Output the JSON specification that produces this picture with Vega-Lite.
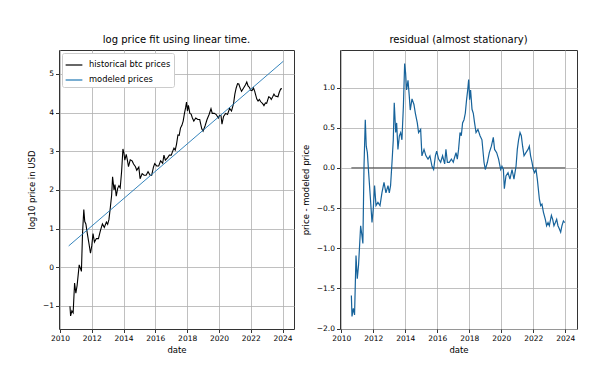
{
  "$schema": "https://vega.github.io/schema/vega-lite/v6.json",
  "autosize": "pad",
  "padding": {"left": 26, "top": 34, "right": 5, "bottom": 5},
  "background": "white",
  "config": {
    "font": "DejaVu Sans",
    "view": {"stroke": "#333333", "strokeWidth": 1},
    "axis": {
      "domain": false, "labelFontSize": 7.5, "titleFontSize": 8.5, "titleFontWeight": "normal",
      "labelColor": "black", "titleColor": "black", "tickColor": "black", "tickSize": 3.5, "tickWidth": 0.8,
      "gridColor": "#b0b0b0", "gridWidth": 0.8, "labelPadding": 2, "labelOverlap": false
    },
    "title": {"fontSize": 10, "fontWeight": "normal", "color": "black", "offset": 5},
    "concat": {"spacing": 46}
  },
  "bounds": "flush",
  "datasets": {
    "btc": [
      {"t":2010.63,"p":-1.01},{"t":2010.67,"p":-1.26},{"t":2010.75,"p":-1.13},{"t":2010.83,"p":-1.18},{"t":2010.92,"p":-0.41},
      {"t":2011.0,"p":-0.67},{"t":2011.08,"p":-0.47},{"t":2011.21,"p":0.06},{"t":2011.29,"p":-0.03},{"t":2011.35,"p":-0.11},
      {"t":2011.42,"p":0.88},{"t":2011.5,"p":1.49},{"t":2011.56,"p":1.18},{"t":2011.63,"p":1.12},{"t":2011.71,"p":0.9},
      {"t":2011.81,"p":0.65},{"t":2011.92,"p":0.36},{"t":2012.0,"p":0.55},{"t":2012.08,"p":0.87},{"t":2012.17,"p":0.65},
      {"t":2012.29,"p":0.74},{"t":2012.42,"p":0.74},{"t":2012.54,"p":0.94},{"t":2012.67,"p":1.12},{"t":2012.79,"p":1.03},
      {"t":2012.92,"p":1.17},{"t":2013.0,"p":1.11},{"t":2013.08,"p":1.23},{"t":2013.17,"p":1.55},{"t":2013.25,"p":1.86},
      {"t":2013.31,"p":2.34},{"t":2013.4,"p":2.0},{"t":2013.46,"p":2.14},{"t":2013.54,"p":1.84},{"t":2013.63,"p":2.04},
      {"t":2013.71,"p":2.11},{"t":2013.79,"p":2.05},{"t":2013.88,"p":2.49},{"t":2013.96,"p":3.06},{"t":2014.02,"p":2.96},
      {"t":2014.08,"p":2.77},{"t":2014.17,"p":2.92},{"t":2014.25,"p":2.75},{"t":2014.31,"p":2.6},{"t":2014.42,"p":2.78},
      {"t":2014.54,"p":2.75},{"t":2014.63,"p":2.67},{"t":2014.75,"p":2.6},{"t":2014.83,"p":2.51},{"t":2014.96,"p":2.59},
      {"t":2015.04,"p":2.29},{"t":2015.17,"p":2.42},{"t":2015.29,"p":2.38},{"t":2015.42,"p":2.38},{"t":2015.54,"p":2.47},
      {"t":2015.67,"p":2.38},{"t":2015.77,"p":2.38},{"t":2015.88,"p":2.59},{"t":2015.96,"p":2.68},{"t":2016.08,"p":2.62},
      {"t":2016.21,"p":2.62},{"t":2016.33,"p":2.75},{"t":2016.46,"p":2.69},{"t":2016.54,"p":2.9},{"t":2016.63,"p":2.77},
      {"t":2016.75,"p":2.82},{"t":2016.88,"p":2.9},{"t":2017.0,"p":2.9},{"t":2017.08,"p":2.99},{"t":2017.17,"p":3.08},
      {"t":2017.25,"p":3.03},{"t":2017.33,"p":3.18},{"t":2017.42,"p":3.42},{"t":2017.5,"p":3.41},{"t":2017.58,"p":3.6},
      {"t":2017.67,"p":3.67},{"t":2017.75,"p":3.78},{"t":2017.83,"p":3.98},{"t":2017.9,"p":4.12},{"t":2017.96,"p":4.27},
      {"t":2018.02,"p":4.04},{"t":2018.08,"p":4.19},{"t":2018.17,"p":3.98},{"t":2018.25,"p":3.96},{"t":2018.33,"p":3.86},
      {"t":2018.42,"p":3.78},{"t":2018.54,"p":3.86},{"t":2018.67,"p":3.82},{"t":2018.79,"p":3.82},{"t":2018.92,"p":3.58},
      {"t":2019.0,"p":3.52},{"t":2019.13,"p":3.66},{"t":2019.25,"p":3.82},{"t":2019.38,"p":3.95},{"t":2019.5,"p":4.1},
      {"t":2019.58,"p":3.98},{"t":2019.71,"p":3.98},{"t":2019.83,"p":3.95},{"t":2019.96,"p":3.86},{"t":2020.04,"p":3.93},
      {"t":2020.13,"p":3.92},{"t":2020.19,"p":3.7},{"t":2020.29,"p":3.9},{"t":2020.42,"p":3.98},{"t":2020.54,"p":3.95},
      {"t":2020.67,"p":4.11},{"t":2020.79,"p":4.04},{"t":2020.92,"p":4.24},{"t":2021.0,"p":4.48},{"t":2021.08,"p":4.63},
      {"t":2021.17,"p":4.75},{"t":2021.25,"p":4.74},{"t":2021.33,"p":4.64},{"t":2021.42,"p":4.55},{"t":2021.54,"p":4.63},
      {"t":2021.67,"p":4.72},{"t":2021.75,"p":4.79},{"t":2021.83,"p":4.69},{"t":2021.92,"p":4.65},{"t":2022.0,"p":4.58},
      {"t":2022.08,"p":4.57},{"t":2022.17,"p":4.64},{"t":2022.25,"p":4.55},{"t":2022.38,"p":4.35},{"t":2022.46,"p":4.3},
      {"t":2022.54,"p":4.34},{"t":2022.63,"p":4.28},{"t":2022.75,"p":4.23},{"t":2022.83,"p":4.18},{"t":2022.92,"p":4.25},
      {"t":2023.0,"p":4.24},{"t":2023.13,"p":4.41},{"t":2023.21,"p":4.39},{"t":2023.29,"p":4.34},{"t":2023.38,"p":4.41},
      {"t":2023.46,"p":4.48},{"t":2023.54,"p":4.43},{"t":2023.63,"p":4.42},{"t":2023.71,"p":4.41},{"t":2023.79,"p":4.52},
      {"t":2023.88,"p":4.61},{"t":2023.96,"p":4.62}
    ],
    "model": [{"t":2010.55,"p":0.55},{"t":2024.05,"p":5.33}],
    "resid": [
      {"t":2010.63,"r":-1.59},{"t":2010.67,"r":-1.85},{"t":2010.75,"r":-1.75},{"t":2010.83,"r":-1.83},{"t":2010.92,"r":-1.09},
      {"t":2011.0,"r":-1.38},{"t":2011.08,"r":-1.21},{"t":2011.21,"r":-0.72},{"t":2011.29,"r":-0.84},{"t":2011.35,"r":-0.94},
      {"t":2011.42,"r":0.02},{"t":2011.5,"r":0.6},{"t":2011.56,"r":0.27},{"t":2011.63,"r":0.19},{"t":2011.71,"r":-0.06},
      {"t":2011.81,"r":-0.35},{"t":2011.92,"r":-0.68},{"t":2012.0,"r":-0.51},{"t":2012.08,"r":-0.22},{"t":2012.17,"r":-0.47},
      {"t":2012.29,"r":-0.43},{"t":2012.42,"r":-0.47},{"t":2012.54,"r":-0.31},{"t":2012.67,"r":-0.18},{"t":2012.79,"r":-0.31},
      {"t":2012.92,"r":-0.22},{"t":2013.0,"r":-0.31},{"t":2013.08,"r":-0.22},{"t":2013.17,"r":0.07},{"t":2013.25,"r":0.35},
      {"t":2013.31,"r":0.81},{"t":2013.4,"r":0.44},{"t":2013.46,"r":0.56},{"t":2013.54,"r":0.23},{"t":2013.63,"r":0.4},
      {"t":2013.71,"r":0.44},{"t":2013.79,"r":0.35},{"t":2013.88,"r":0.76},{"t":2013.96,"r":1.3},{"t":2014.02,"r":1.18},
      {"t":2014.08,"r":0.97},{"t":2014.17,"r":1.09},{"t":2014.25,"r":0.89},{"t":2014.31,"r":0.72},{"t":2014.42,"r":0.86},
      {"t":2014.54,"r":0.79},{"t":2014.63,"r":0.68},{"t":2014.75,"r":0.56},{"t":2014.83,"r":0.44},{"t":2014.96,"r":0.48},
      {"t":2015.04,"r":0.15},{"t":2015.17,"r":0.23},{"t":2015.29,"r":0.15},{"t":2015.42,"r":0.11},{"t":2015.54,"r":0.15},
      {"t":2015.67,"r":0.02},{"t":2015.77,"r":-0.02},{"t":2015.88,"r":0.15},{"t":2015.96,"r":0.21},{"t":2016.08,"r":0.11},
      {"t":2016.21,"r":0.07},{"t":2016.33,"r":0.15},{"t":2016.46,"r":0.05},{"t":2016.54,"r":0.23},{"t":2016.63,"r":0.07},
      {"t":2016.75,"r":0.07},{"t":2016.88,"r":0.11},{"t":2017.0,"r":0.07},{"t":2017.08,"r":0.13},{"t":2017.17,"r":0.19},
      {"t":2017.25,"r":0.11},{"t":2017.33,"r":0.23},{"t":2017.42,"r":0.44},{"t":2017.5,"r":0.4},{"t":2017.58,"r":0.56},
      {"t":2017.67,"r":0.6},{"t":2017.75,"r":0.68},{"t":2017.83,"r":0.85},{"t":2017.9,"r":0.97},{"t":2017.96,"r":1.1},
      {"t":2018.02,"r":0.85},{"t":2018.08,"r":0.97},{"t":2018.17,"r":0.73},{"t":2018.25,"r":0.68},{"t":2018.33,"r":0.56},
      {"t":2018.42,"r":0.44},{"t":2018.54,"r":0.48},{"t":2018.67,"r":0.4},{"t":2018.79,"r":0.35},{"t":2018.92,"r":0.07},
      {"t":2019.0,"r":-0.02},{"t":2019.13,"r":0.07},{"t":2019.25,"r":0.19},{"t":2019.38,"r":0.27},{"t":2019.5,"r":0.38},
      {"t":2019.58,"r":0.23},{"t":2019.71,"r":0.19},{"t":2019.83,"r":0.11},{"t":2019.96,"r":-0.02},{"t":2020.04,"r":0.02},
      {"t":2020.13,"r":-0.02},{"t":2020.19,"r":-0.26},{"t":2020.29,"r":-0.1},{"t":2020.42,"r":-0.06},{"t":2020.54,"r":-0.14},
      {"t":2020.67,"r":-0.02},{"t":2020.79,"r":-0.14},{"t":2020.92,"r":0.02},{"t":2021.0,"r":0.23},{"t":2021.08,"r":0.35},
      {"t":2021.17,"r":0.44},{"t":2021.25,"r":0.4},{"t":2021.33,"r":0.27},{"t":2021.42,"r":0.15},{"t":2021.54,"r":0.19},
      {"t":2021.67,"r":0.23},{"t":2021.75,"r":0.27},{"t":2021.83,"r":0.15},{"t":2021.92,"r":0.07},{"t":2022.0,"r":-0.02},
      {"t":2022.08,"r":-0.06},{"t":2022.17,"r":-0.02},{"t":2022.25,"r":-0.14},{"t":2022.38,"r":-0.39},{"t":2022.46,"r":-0.47},
      {"t":2022.54,"r":-0.45},{"t":2022.63,"r":-0.55},{"t":2022.75,"r":-0.64},{"t":2022.83,"r":-0.72},{"t":2022.92,"r":-0.68},
      {"t":2023.0,"r":-0.72},{"t":2023.13,"r":-0.59},{"t":2023.21,"r":-0.64},{"t":2023.29,"r":-0.72},{"t":2023.38,"r":-0.68},
      {"t":2023.46,"r":-0.64},{"t":2023.54,"r":-0.72},{"t":2023.63,"r":-0.76},{"t":2023.71,"r":-0.8},{"t":2023.79,"r":-0.72},
      {"t":2023.88,"r":-0.66},{"t":2023.96,"r":-0.68}
    ],
    "zero": [{"t":2010.63,"r":0},{"t":2024.0,"r":0}]
  },
  "resolve": {"scale": {"color": "independent"}, "legend": {"color": "independent"}},
  "hconcat": [
    {
      "width": 235, "height": 279,
      "title": "log price fit using linear time.",
      "layer": [
        {
          "data": {"name": "btc"},
          "mark": {"type": "line", "strokeWidth": 1.1, "clip": true},
          "encoding": {
            "x": {"field": "t", "type": "quantitative", "scale": {"domain": [2009.94, 2024.72], "nice": false, "zero": false},
                  "axis": {"title": "date", "values": [2010,2012,2014,2016,2018,2020,2022,2024], "tickCount": 30, "format": "d", "titlePadding": 3, "labelOverlap": false, "labelFlush": false}},
            "y": {"field": "p", "type": "quantitative", "scale": {"domain": [-1.6, 5.62], "nice": false, "zero": false},
                  "axis": {"title": "log10 price in USD", "values": [-1,0,1,2,3,4,5], "tickCount": 30, "format": "d", "titlePadding": 6, "labelOverlap": false}},
            "color": {"datum": "historical btc prices", "type": "nominal",
              "scale": {"domain": ["historical btc prices", "modeled prices"], "range": ["black", "#1f77b4"]},
              "legend": {"title": null, "orient": "top-left", "offset": 3, "symbolType": "stroke", "symbolSize": 280,
                "symbolStrokeWidth": 1.2, "labelFontSize": 8.3, "labelColor": "black", "rowPadding": 2, "padding": 3,
                "strokeColor": "#cccccc", "fillColor": "white", "cornerRadius": 2, "labelOffset": 6}}
          }
        },
        {
          "data": {"name": "model"},
          "mark": {"type": "line", "strokeWidth": 0.9, "clip": true},
          "encoding": {
            "x": {"field": "t", "type": "quantitative"},
            "y": {"field": "p", "type": "quantitative"},
            "color": {"datum": "modeled prices", "type": "nominal"}
          }
        }
      ]
    },
    {
      "width": 237, "height": 279,
      "title": "residual (almost stationary)",
      "layer": [
        {
          "data": {"name": "zero"},
          "mark": {"type": "line", "color": "#444444", "strokeWidth": 1},
          "encoding": {
            "x": {"field": "t", "type": "quantitative", "scale": {"domain": [2009.92, 2024.73], "nice": false, "zero": false},
                  "axis": {"title": "date", "values": [2010,2012,2014,2016,2018,2020,2022,2024], "tickCount": 30, "format": "d", "titlePadding": 3, "labelOverlap": false, "labelFlush": false}},
            "y": {"field": "r", "type": "quantitative", "scale": {"domain": [-2.006, 1.468], "nice": false, "zero": false},
                  "axis": {"title": "price - modeled price", "values": [-2,-1.5,-1,-0.5,0,0.5,1], "tickCount": 30, "format": ".1f", "titlePadding": 6, "labelOverlap": false}}
          }
        },
        {
          "data": {"name": "resid"},
          "mark": {"type": "line", "color": "#17639b", "strokeWidth": 1.2, "clip": true},
          "encoding": {
            "x": {"field": "t", "type": "quantitative"},
            "y": {"field": "r", "type": "quantitative"}
          }
        }
      ]
    }
  ]
}
